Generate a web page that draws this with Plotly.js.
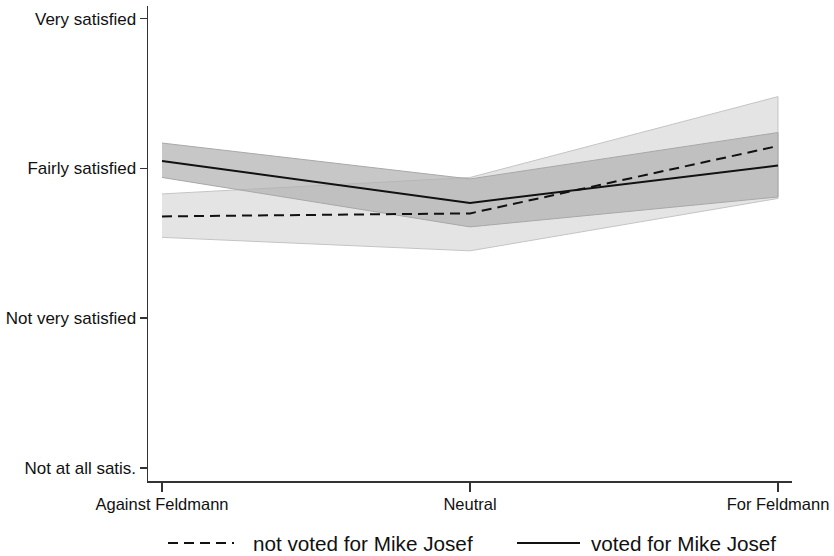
<!DOCTYPE html>
<html>
<head>
<meta charset="utf-8">
<script src="https://cdn.plot.ly/plotly-3.0.1.min.js"></script>
<style>html,body{margin:0;padding:0;background:#fff;}#chart{width:834px;height:556px;}</style>
</head>
<body>
<div id="chart"></div>
<script>
// Categories (x) and tick labels
const categories = [0, 1, 2];
const categoryLabels = ["Against Feldmann", "Neutral", "For Feldmann"];
const yTickVals = [1, 2, 3, 4];
const yTickLabels = ["Not at all satis.", "Not very satisfied", "Fairly satisfied", "Very satisfied"];

// Series: not voted for Mike Josef (dashed)
const notVotedMean  = [2.68, 2.70, 3.15];
const notVotedUpper = [2.83, 2.94, 3.48];
const notVotedLower = [2.54, 2.45, 2.80];

// Series: voted for Mike Josef (solid)
const votedMean  = [3.05, 2.77, 3.02];
const votedUpper = [3.17, 2.93, 3.24];
const votedLower = [2.94, 2.61, 2.81];

const seriesNames = ["not voted for Mike Josef", "voted for Mike Josef"];

function band(upper, lower, fill, line) {
  return {
    x: categories.concat(categories.slice().reverse()),
    y: upper.concat(lower.slice().reverse()),
    type: 'scatter', mode: 'lines', fill: 'toself',
    fillcolor: fill, line: {color: line, width: 1},
    hoverinfo: 'skip', showlegend: false
  };
}

const traces = [
  band(notVotedUpper, notVotedLower, '#e4e4e4', '#c4c4c4'),
  band(votedUpper, votedLower, 'rgba(178,178,178,0.72)', '#a8a8a8'),
  {x: categories, y: notVotedMean, type: 'scatter', mode: 'lines', name: seriesNames[0],
   line: {color: '#111', width: 2, dash: '10px,6px'}, showlegend: false},
  {x: categories, y: votedMean, type: 'scatter', mode: 'lines', name: seriesNames[1],
   line: {color: '#111', width: 2}, showlegend: false}
];

const fam = 'Liberation Sans, Arial, sans-serif';
const font = {family: fam, size: 16, color: '#111'};
const legY = (556 - 75 - 543) / 475;

const layout = {
  width: 834, height: 556,
  margin: {l: 148, r: 42, t: 6, b: 75},
  paper_bgcolor: '#fff', plot_bgcolor: '#fff',
  font: font,
  showlegend: false,
  xaxis: {
    range: [-0.0455, 2.0455], tickvals: categories, ticktext: categoryLabels,
    showgrid: false, zeroline: false, showline: true, linecolor: '#333', linewidth: 1.5,
    ticks: 'outside', ticklen: 9, tickwidth: 1.5, tickcolor: '#333', ticklabelstandoff: -1,
    tickfont: {family: fam, size: 16.5, color: '#111'}, fixedrange: true
  },
  yaxis: {
    range: [0.913, 4.085], tickvals: yTickVals, ticktext: yTickLabels,
    showgrid: false, zeroline: false, showline: true, linecolor: '#333', linewidth: 1.5,
    ticks: 'outside', ticklen: 7, tickwidth: 1.5, tickcolor: '#333',
    tickfont: {family: fam, size: 17, color: '#111'}, fixedrange: true
  },
  shapes: [
    {type: 'line', xref: 'paper', yref: 'paper', x0: (168-148)/644, x1: (234-148)/644,
     y0: legY, y1: legY, line: {color: '#111', width: 2, dash: '10px,6px'}},
    {type: 'line', xref: 'paper', yref: 'paper', x0: (517-148)/644, x1: (580-148)/644,
     y0: legY, y1: legY, line: {color: '#111', width: 2}}
  ],
  annotations: [
    {xref: 'paper', yref: 'paper', x: (251-148)/644, y: legY, xanchor: 'left', yanchor: 'middle',
     text: seriesNames[0], showarrow: false, font: {family: fam, size: 20.7, color: '#111'}},
    {xref: 'paper', yref: 'paper', x: (589-148)/644, y: legY, xanchor: 'left', yanchor: 'middle',
     text: seriesNames[1], showarrow: false, font: {family: fam, size: 20.7, color: '#111'}}
  ]
};

Plotly.newPlot('chart', traces, layout, {displayModeBar: false, staticPlot: true});
</script>
</body>
</html>
